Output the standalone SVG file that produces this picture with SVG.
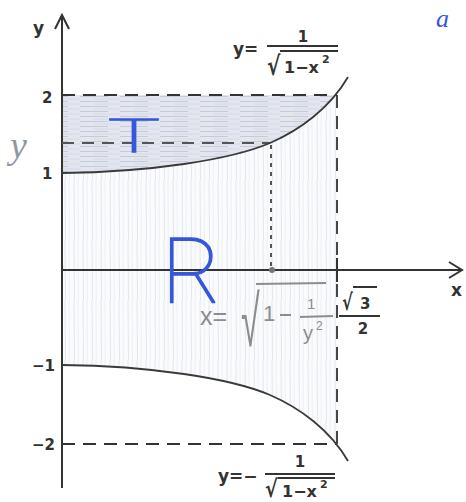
<svg xmlns="http://www.w3.org/2000/svg" width="466" height="502" viewBox="0 0 466 502">
<style>
.ax{stroke:#333;stroke-width:2;fill:none}
.crv{stroke:#3a3a3a;stroke-width:1.8;fill:none}
.dash{stroke:#333;stroke-width:1.8;stroke-dasharray:13 8;fill:none}
.lbl{font-family:"DejaVu Sans",Verdana,sans-serif;font-weight:bold;fill:#333}
.hand{font-family:"Liberation Sans",Arial,sans-serif;fill:#8d8d8d}
.blue{font-family:Roboto,"Liberation Sans",sans-serif;font-weight:100;fill:#3557d8;stroke:#3557d8;stroke-width:1.3}
.bar{stroke:#333;stroke-width:2}
.hl{stroke:#8d8d8d;stroke-width:2}
</style>
<defs>
<pattern id="hz" width="40" height="5" patternUnits="userSpaceOnUse">
<rect width="40" height="5" fill="#e3e6ee"/>
<line x1="0" y1="1.5" x2="28" y2="1.5" stroke="#c6cbd9" stroke-width="1"/>
<line x1="14" y1="4" x2="40" y2="4" stroke="#d2d6e2" stroke-width="0.8"/>
</pattern>
<pattern id="vt" width="9" height="60" patternUnits="userSpaceOnUse">
<rect width="9" height="60" fill="#fafbfc"/>
<line x1="2" y1="0" x2="2.5" y2="60" stroke="#dde0ea" stroke-width="0.8"/>
<line x1="6" y1="0" x2="6.3" y2="60" stroke="#e8eaf1" stroke-width="0.7"/>
</pattern>
<clipPath id="clipT"><path d="M62,173 C150,172 230,160 270,143 C300,130 330,108 348,77 L348,0 L62,0 Z"/></clipPath>
<clipPath id="clipR"><path d="M62,173 C150,172 230,160 270,143 C300,130 330,108 348,77 L348,461 C330,430 300,408 270,395 C230,378 150,366 62,365 Z"/></clipPath>
</defs>
<rect width="466" height="502" fill="#fff"/>
<g id="shading">
<rect x="62" y="95" width="275" height="370" fill="url(#vt)" clip-path="url(#clipR)"/>
<rect x="62" y="95" width="275" height="80" fill="url(#hz)" clip-path="url(#clipT)"/>
</g>
<g id="connectors">
<line class="ax" x1="62" y1="15" x2="62" y2="488"/>
<polyline class="ax" points="55,29 62,15 69,29"/>
<line class="ax" x1="62" y1="270" x2="462" y2="270"/>
<polyline class="ax" points="449,262 462,270 449,278"/>
<line class="dash" x1="62" y1="95" x2="337" y2="95"/>
<line class="dash" x1="62" y1="444" x2="337" y2="444"/>
<line class="dash" x1="337" y1="95" x2="337" y2="444"/>
<line x1="337" y1="258" x2="337" y2="282" stroke="#333" stroke-width="2"/>
<line x1="62" y1="143" x2="270" y2="143" stroke="#555" stroke-width="2" stroke-dasharray="12 8"/>
<line x1="271" y1="145" x2="271" y2="268" stroke="#444" stroke-width="1.8" stroke-dasharray="4 5"/>
<circle cx="272" cy="270" r="3" fill="#777"/>
<path class="crv" d="M62,173 C150,172 230,160 270,143 C300,130 330,108 348,77"/>
<path class="crv" d="M62,365 C150,366 230,378 270,395 C300,408 330,430 348,461"/>
</g>
<g id="axis-labels">
<text class="lbl" x="33" y="34" font-size="17">y</text>
<text class="lbl" x="451" y="296" font-size="17">x</text>
<text class="lbl" x="42" y="103" font-size="15">2</text>
<text class="lbl" x="42" y="179" font-size="15">1</text>
<text class="lbl" x="32" y="371" font-size="15">−1</text>
<text class="lbl" x="32" y="450" font-size="15">−2</text>
</g>
<g id="upper-formula">
<text class="lbl" x="233" y="55" font-size="17">y=</text>
<text class="lbl" x="303" y="42" font-size="15" text-anchor="middle">1</text>
<line class="bar" x1="267" y1="46" x2="338" y2="46"/>
<text class="lbl" font-size="20" transform="translate(267,75) scale(1,1.3)">√</text>
<line class="bar" x1="280" y1="51" x2="338" y2="51"/>
<text class="lbl" x="284" y="73" font-size="16">1−x</text>
<text class="lbl" x="322" y="63" font-size="11">2</text>
</g>
<g id="lower-formula">
<text class="lbl" x="218" y="482" font-size="17">y=−</text>
<text class="lbl" x="300" y="467" font-size="15" text-anchor="middle">1</text>
<line class="bar" x1="265" y1="474" x2="335" y2="474"/>
<text class="lbl" font-size="19" transform="translate(265,497) scale(1,1.25)">√</text>
<line class="bar" x1="278" y1="478" x2="335" y2="478"/>
<text class="lbl" x="282" y="497" font-size="16">1−x</text>
<text class="lbl" x="320" y="488" font-size="11">2</text>
</g>
<g id="tick-label">
<text class="lbl" font-size="16" transform="translate(342,310) scale(1,1.4)">√</text>
<line class="bar" x1="353" y1="287" x2="377" y2="287" stroke-width="1.6"/>
<text class="lbl" x="360" y="309" font-size="15">3</text>
<line class="bar" x1="339" y1="316" x2="380" y2="316"/>
<text class="lbl" x="363" y="334" font-size="15" text-anchor="middle">2</text>
</g>
<g id="handwriting">
<text x="10" y="158" font-family="Liberation Serif,serif" font-style="italic" font-size="38" fill="#8f96a6">y</text>
<text x="436" y="27" font-family="Liberation Serif,serif" font-style="italic" font-size="26" fill="#3557d8">a</text>
<text class="blue" x="108" y="152" font-size="46" textLength="52" lengthAdjust="spacingAndGlyphs">T</text>
<text class="blue" x="162" y="303" font-size="90">R</text>
<text class="hand" x="200" y="325" font-size="25">x=</text>
<text class="hand" font-size="34" transform="translate(241,346) scale(1,2.1)">√</text>
<line class="hl" x1="256" y1="284" x2="326" y2="283"/>
<text class="hand" x="263" y="321" font-size="22">1</text>
<line class="hl" x1="280" y1="315" x2="291" y2="315"/>
<text class="hand" x="307" y="309" font-size="15">1</text>
<line class="hl" x1="300" y1="317" x2="333" y2="316"/>
<text class="hand" x="303" y="340" font-size="20">y</text>
<text class="hand" x="316" y="330" font-size="12">2</text>
</g>
</svg>
